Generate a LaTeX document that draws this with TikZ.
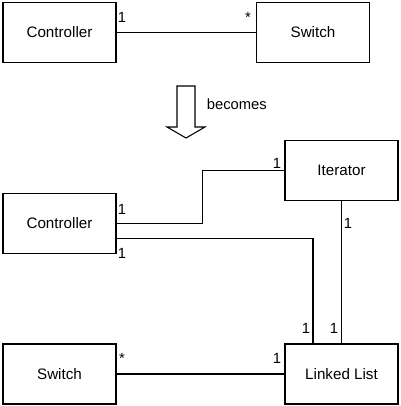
\documentclass[tikz,border=0pt]{standalone}
\usepackage{fontspec}
\setmainfont{Liberation Sans}
\usetikzlibrary{positioning, calc}
\tikzset{
  every picture/.style={line width=0.75pt},
  box/.style={draw, fill=white, minimum width=2.825cm, minimum height=1.5cm, inner sep=2pt, font=\fontsize{10.8}{13}\selectfont},
  mult/.style={inner sep=1pt, font=\fontsize{10.5}{12}\selectfont},
  link/.style={draw, line width=0.75pt},
  note/.style={inner sep=1pt, font=\fontsize{10.5}{12}\selectfont},
}
\begin{document}
\begin{tikzpicture}[x=0.025cm, y=-0.025cm]
  \useasboundingbox (0,0) rectangle (400,406);
  % before
  \node[box] (ctrlA) at (59.5,32.5) {Controller};
  \node[box] (swA) at (313,32.5) {Switch};
  \draw[link] (ctrlA.east) -- (swA.west);
  \node[mult] (mA1) at (122,17) {1};
  \node[mult] (mA2) at (248,17) {*};
  % becomes arrow
  \draw (177,86) -- (195,86) -- (195,127) -- (205,127) -- (186,138)
        -- (167,127) -- (177,127) -- cycle;
  \node[note, anchor=west] (becomes) at (205,104) {becomes};
  % after
  \node[box] (iter) at (341.5,170.5) {Iterator};
  \node[box] (ctrlB) at (59.5,223.5) {Controller};
  \node[box] (swB) at (59.5,374) {Switch};
  \node[box] (list) at (341.5,374) {Linked List};
  \draw[link] (ctrlB.east) -- ++(86,0) |- (iter.west);
  \draw[link] ([yshift=-0.375cm]ctrlB.east) -| ([xshift=-0.7125cm]list.north);
  \draw[link] (iter.south) -- (list.north);
  \draw[link] (swB.east) -- (list.west);
  \node[mult] (mB1) at (277,163) {1};
  \node[mult] (mB2) at (122,209) {1};
  \node[mult] (mB3) at (122,253) {1};
  \node[mult] (mB4) at (348,223) {1};
  \node[mult] (mB5) at (306,328) {1};
  \node[mult] (mB6) at (334,328) {1};
  \node[mult] (mB7) at (122,358) {*};
  \node[mult] (mB8) at (277,358) {1};
\end{tikzpicture}
\end{document}
